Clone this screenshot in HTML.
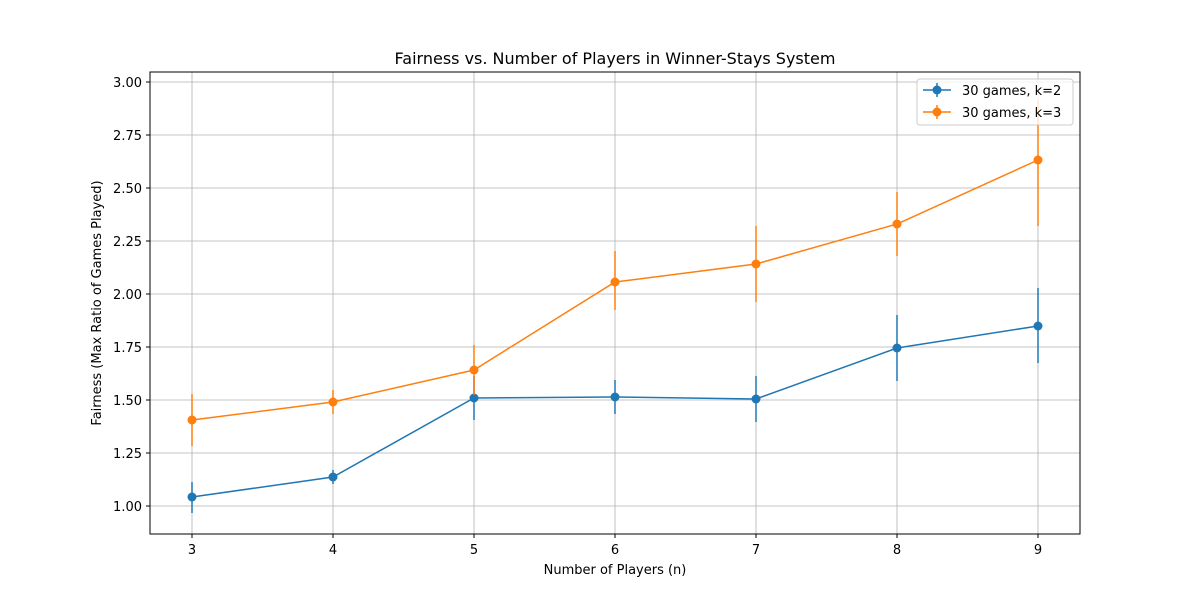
<!DOCTYPE html>
<html><head><meta charset="utf-8"><style>
body{margin:0;background:#fff}
svg text{font-family:"DejaVu Sans","Liberation Sans",sans-serif;fill:#000}
</style></head><body>
<svg width="1200" height="600" viewBox="0 0 1200 600" xmlns="http://www.w3.org/2000/svg">
<rect width="1200" height="600" fill="#fff"/>
<g stroke="#b0b0b0" stroke-width="0.8">
<line x1="192" y1="72" x2="192" y2="534"/><line x1="333" y1="72" x2="333" y2="534"/>
<line x1="474" y1="72" x2="474" y2="534"/><line x1="615" y1="72" x2="615" y2="534"/>
<line x1="756" y1="72" x2="756" y2="534"/><line x1="897" y1="72" x2="897" y2="534"/>
<line x1="1038" y1="72" x2="1038" y2="534"/>
<line x1="150" y1="506" x2="1080" y2="506"/><line x1="150" y1="453" x2="1080" y2="453"/>
<line x1="150" y1="400" x2="1080" y2="400"/><line x1="150" y1="347" x2="1080" y2="347"/>
<line x1="150" y1="294" x2="1080" y2="294"/><line x1="150" y1="241" x2="1080" y2="241"/>
<line x1="150" y1="188" x2="1080" y2="188"/><line x1="150" y1="135" x2="1080" y2="135"/>
<line x1="150" y1="82" x2="1080" y2="82"/>
</g>
<!-- blue -->
<g stroke="#1f77b4" stroke-width="1.5" fill="none">
<line x1="192" y1="482" x2="192" y2="513"/><line x1="333" y1="470" x2="333" y2="484"/>
<line x1="474" y1="376" x2="474" y2="420"/><line x1="615" y1="380" x2="615" y2="414"/>
<line x1="756" y1="376" x2="756" y2="422"/><line x1="897" y1="315" x2="897" y2="381"/>
<line x1="1038" y1="288" x2="1038" y2="363"/>
<polyline points="192,497 333,477 474,398 615,397 756,399 897,348 1038,326"/>
</g>
<g fill="#1f77b4">
<circle cx="192" cy="497" r="4.5"/><circle cx="333" cy="477" r="4.5"/><circle cx="474" cy="398" r="4.5"/>
<circle cx="615" cy="397" r="4.5"/><circle cx="756" cy="399" r="4.5"/><circle cx="897" cy="348" r="4.5"/>
<circle cx="1038" cy="326" r="4.5"/>
</g>
<!-- orange -->
<g stroke="#ff7f0e" stroke-width="1.5" fill="none">
<line x1="192" y1="394" x2="192" y2="446"/><line x1="333" y1="390" x2="333" y2="414"/>
<line x1="474" y1="345" x2="474" y2="395"/><line x1="615" y1="251" x2="615" y2="310"/>
<line x1="756" y1="226" x2="756" y2="302"/><line x1="897" y1="192" x2="897" y2="256"/>
<line x1="1038" y1="100" x2="1038" y2="226"/>
<polyline points="192,420 333,402 474,370 615,282 756,264 897,224 1038,160"/>
</g>
<g fill="#ff7f0e">
<circle cx="192" cy="420" r="4.5"/><circle cx="333" cy="402" r="4.5"/><circle cx="474" cy="370" r="4.5"/>
<circle cx="615" cy="282" r="4.5"/><circle cx="756" cy="264" r="4.5"/><circle cx="897" cy="224" r="4.5"/>
<circle cx="1038" cy="160" r="4.5"/>
</g>
<rect x="150" y="72" width="930" height="462" fill="none" stroke="#000" stroke-width="1"/>
<g stroke="#000" stroke-width="1">
<line x1="192" y1="534" x2="192" y2="538"/><line x1="333" y1="534" x2="333" y2="538"/>
<line x1="474" y1="534" x2="474" y2="538"/><line x1="615" y1="534" x2="615" y2="538"/>
<line x1="756" y1="534" x2="756" y2="538"/><line x1="897" y1="534" x2="897" y2="538"/>
<line x1="1038" y1="534" x2="1038" y2="538"/>
<line x1="146" y1="506" x2="150" y2="506"/><line x1="146" y1="453" x2="150" y2="453"/>
<line x1="146" y1="400" x2="150" y2="400"/><line x1="146" y1="347" x2="150" y2="347"/>
<line x1="146" y1="294" x2="150" y2="294"/><line x1="146" y1="241" x2="150" y2="241"/>
<line x1="146" y1="188" x2="150" y2="188"/><line x1="146" y1="135" x2="150" y2="135"/>
<line x1="146" y1="82" x2="150" y2="82"/>
</g>
<g font-size="13" text-anchor="middle">
<text x="192" y="554">3</text><text x="333" y="554">4</text><text x="474" y="554">5</text>
<text x="615" y="554">6</text><text x="756" y="554">7</text><text x="897" y="554">8</text>
<text x="1038" y="554">9</text>
</g>
<g font-size="13" text-anchor="end">
<text x="142" y="511">1.00</text><text x="142" y="458">1.25</text><text x="142" y="405">1.50</text>
<text x="142" y="352">1.75</text><text x="142" y="299">2.00</text><text x="142" y="246">2.25</text>
<text x="142" y="193">2.50</text><text x="142" y="140">2.75</text><text x="142" y="87">3.00</text>
</g>
<text x="615" y="574" font-size="13" text-anchor="middle">Number of Players (n)</text>
<text transform="translate(101,303) rotate(-90)" font-size="13" text-anchor="middle">Fairness (Max Ratio of Games Played)</text>
<text x="615" y="64" font-size="16" text-anchor="middle">Fairness vs. Number of Players in Winner-Stays System</text>
<rect x="917" y="79" width="156" height="46" rx="3" fill="#fff" fill-opacity="0.8" stroke="#ccc"/>
<line x1="923" y1="90" x2="951" y2="90" stroke="#1f77b4" stroke-width="1.5"/>
<line x1="937" y1="83" x2="937" y2="97" stroke="#1f77b4" stroke-width="1.5"/>
<circle cx="937" cy="90" r="4.5" fill="#1f77b4"/>
<text x="962" y="95" font-size="13">30 games, k=2</text>
<line x1="923" y1="112" x2="951" y2="112" stroke="#ff7f0e" stroke-width="1.5"/>
<line x1="937" y1="105" x2="937" y2="119" stroke="#ff7f0e" stroke-width="1.5"/>
<circle cx="937" cy="112" r="4.5" fill="#ff7f0e"/>
<text x="962" y="117" font-size="13">30 games, k=3</text>
</svg>
</body></html>
